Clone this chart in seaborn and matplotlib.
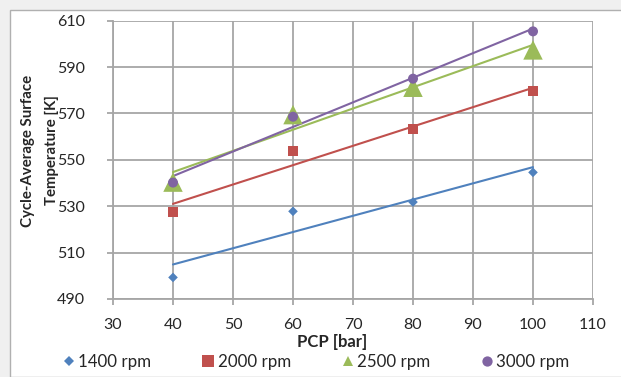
import matplotlib
matplotlib.use("Agg")
import matplotlib.pyplot as plt
from matplotlib.lines import Line2D
from matplotlib.patches import Rectangle
import seaborn as sns
import pandas as pd

pcp = [40, 60, 80, 100]
t1400 = [499.3, 527.8, 531.8, 544.6]
t2000 = [527.4, 553.7, 563.3, 579.8]
t2500 = [540.4, 569.5, 581.3, 597.4]
t3000 = [540.2, 568.6, 585.0, 605.4]
labels = ["1400 rpm", "2000 rpm", "2500 rpm", "3000 rpm"]
colors = ["#4F81BD", "#C0504D", "#9BBB59", "#8064A2"]
markers = ["D", "s", "^", "o"]
msizes = [4.9, 7.2, 14.0, 7.2]
leg_sizes = [5.1, 8.4, 7.4, 7.4]
xticks = [30, 40, 50, 60, 70, 80, 90, 100, 110]
yticks = [490, 510, 530, 550, 570, 590, 610]

sns.set_theme(style="white")
plt.rcParams["font.family"] = ["Lato", "DejaVu Sans"]

W, H = 621, 377
fig = plt.figure(figsize=(W / 100, H / 100), dpi=100)
fig.patch.set_facecolor("#f0f0f0")
fig.patches.append(Rectangle((10 / W, 0), 1, 1 - 10 / H, transform=fig.transFigure,
                             facecolor="white", edgecolor="#b0b0b0", linewidth=1.0, zorder=-10))
ax = fig.add_axes([113 / W, 1 - 299 / H, 480 / W, 278.3 / H])
ax.set_zorder(1)
ax.set_facecolor("white")

series = [t1400, t2000, t2500, t3000]
for vals, lab, c, m, ms in zip(series, labels, colors, markers, msizes):
    df = pd.DataFrame({"x": pcp, "y": vals})
    sns.regplot(data=df, x="x", y="y", ax=ax, scatter=False, ci=None, truncate=True,
                line_kws={"color": c, "linewidth": 1.5, "zorder": 3})
    sns.scatterplot(data=df, x="x", y="y", ax=ax, marker=m, s=ms ** 2, color=c,
                    edgecolor="none", linewidth=0, zorder=4, legend=False)

ax.set_xlim(30, 110)
ax.set_ylim(490, 610)
ax.set_xticks(xticks)
ax.set_yticks(yticks)
ax.grid(True, color="#a6a6a6", linewidth=1.3)
ax.set_axisbelow(True)
for s in ax.spines.values():
    s.set_visible(False)
for side in ("left", "bottom"):
    ax.spines[side].set_visible(True)
    ax.spines[side].set_color("#a6a6a6")
    ax.spines[side].set_linewidth(1.3)
ax.tick_params(axis="both", which="both", direction="out", length=4.5, width=1.3,
               color="#a6a6a6", labelsize=11.5, labelcolor="#262626",
               bottom=True, left=True)
ax.tick_params(axis="x", pad=9.5)
ax.tick_params(axis="y", pad=15.5)

ax.set_xlabel("PCP [bar]", fontsize=12, fontweight="bold", color="#262626")
ax.xaxis.set_label_coords((332 - 113) / 480, (299 - 342) / 278.3)
ax.xaxis.label.set_va("center")
ax.set_ylabel("Cycle-Average Surface\nTemperature [K]", fontsize=10.8, fontweight="bold",
              color="#262626", linespacing=1.9)
ax.yaxis.set_label_coords((40 - 113) / 480, (299 - 150.5) / 278.3)
ax.yaxis.label.set_va("center")

handles = [Line2D([], [], linestyle="none", marker=m, color=c, markersize=ls,
                  markeredgewidth=0) for m, c, ls in zip(markers, colors, leg_sizes)]
fig.legend(handles, labels, loc="center left", bbox_to_anchor=(64 / W, 1 - 361.7 / H), ncol=4,
           frameon=False, fontsize=12.2, handlelength=0.6, handletextpad=0.25,
           columnspacing=3.05, labelcolor="#262626", borderpad=0, borderaxespad=0)

fig.savefig("out.png", dpi=100, facecolor=fig.get_facecolor())
